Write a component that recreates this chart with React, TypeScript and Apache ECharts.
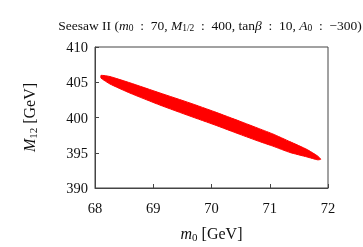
import React, { useEffect, useRef } from "react";
import * as echarts from "echarts";

const xTicks = [68, 69, 70, 71, 72];
const yTicks = [390, 395, 400, 405, 410];
// outline of the allowed region (m0, M12)
const upperEdge: [number, number][] = [
  [68.103, 405.98],
  [68.257, 405.81],
  [68.6, 404.92],
  [69.115, 403.48],
  [69.63, 402.06],
  [70.058, 400.8],
  [70.487, 399.47],
  [70.83, 398.38],
  [71.053, 397.67],
  [71.345, 396.58],
  [71.636, 395.48],
  [71.825, 394.52],
  [71.876, 394.08],
];
const lowerEdge: [number, number][] = [
  [71.825, 393.99],
  [71.636, 394.41],
  [71.345, 395.04],
  [71.053, 395.94],
  [70.83, 396.57],
  [70.487, 397.61],
  [70.058, 398.94],
  [69.63, 400.2],
  [69.115, 401.76],
  [68.6, 403.46],
  [68.257, 404.75],
  [68.103, 405.59],
];

const serif = "Liberation Serif";

export default function App() {
  const ref = useRef<HTMLDivElement>(null);
  useEffect(() => {
    const chart = echarts.init(ref.current!, undefined, { renderer: "svg" });
    const outline = [...upperEdge, ...lowerEdge];
    const mk = (size: number, sub: number, lh: number, pad: number) => ({
      n: { fontFamily: serif, fontSize: size, fontWeight: "normal", color: "#111", lineHeight: lh },
      i: { fontFamily: serif, fontSize: size, fontWeight: "normal", fontStyle: "italic", color: "#111", lineHeight: lh },
      s: { fontFamily: serif, fontSize: sub, fontWeight: "normal", color: "#111", verticalAlign: "bottom", lineHeight: lh, padding: [pad, 0, 0, 0] },
    });
    chart.setOption({
      animation: false,
      title: {
        text:
          "{n|Seesaw II (}{i|m}{s|0}{n|  :  70, }{i|M}{s|1/2}{n|  :  400, tan}{i|β}{n|  :  10, }{i|A}{s|0}{n|  :  −300)}",
        left: 205,
        textAlign: "center",
        top: 12,
        textStyle: { fontWeight: "normal", rich: mk(13.5, 9.5, 16, 5) },
      },
      grid: {
        left: 95,
        right: 35,
        top: 47,
        bottom: 51,
        show: true,
        borderColor: "#444",
        borderWidth: 1,
        backgroundColor: "transparent",
      },
      xAxis: {
        type: "value",
        min: xTicks[0],
        max: xTicks[xTicks.length - 1],
        interval: 1,
        axisLine: { show: true, lineStyle: { color: "#444", width: 1 } },
        axisTick: { show: true, inside: true, length: 4, lineStyle: { color: "#444" } },
        splitLine: { show: false },
        axisLabel: { fontFamily: serif, fontSize: 14.5, color: "#111", margin: 12 },
        name: "{i|m}{s|0}{n| [GeV]}",
        nameLocation: "middle",
        nameGap: 36,
        nameTextStyle: { rich: mk(16, 11, 18, 6) },
      },
      yAxis: {
        type: "value",
        min: yTicks[0],
        max: yTicks[yTicks.length - 1],
        interval: 5,
        axisLine: { show: true, lineStyle: { color: "#444", width: 1 } },
        axisTick: { show: true, inside: true, length: 4, lineStyle: { color: "#444" } },
        splitLine: { show: false },
        axisLabel: { fontFamily: serif, fontSize: 14.5, color: "#111", margin: 7 },
        name: "{i|M}{s|12}{n| [GeV]}",
        nameLocation: "middle",
        nameGap: 57,
        nameRotate: 90,
        nameTextStyle: { rich: mk(16, 11, 18, 6) },
      },
      series: [
        {
          type: "custom",
          data: outline,
          renderItem: (params: any, api: any) => {
            if (params.dataIndex !== 0) return null;
            const pts = outline.map((p) => api.coord(p));
            return {
              type: "polygon",
              shape: { points: pts, smooth: 0.15 },
              style: { fill: "#ff0000", stroke: "#ff0000", lineWidth: 1 },
            };
          },
        },
      ],
    });
    return () => chart.dispose();
  }, []);
  return (
    <div
      ref={ref}
      style={{ position: "fixed", left: 0, top: 0, width: 363, height: 247 }}
    />
  );
}
